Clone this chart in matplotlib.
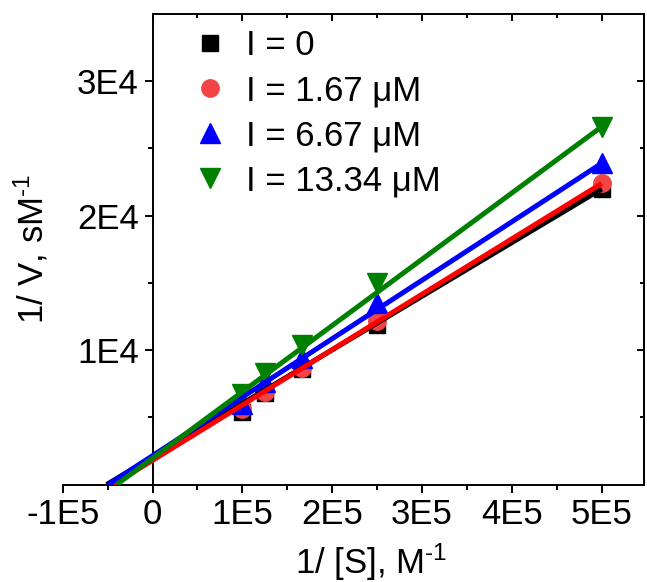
import numpy as np
import matplotlib
matplotlib.use('Agg')
import matplotlib.pyplot as plt
from matplotlib.ticker import FixedLocator

plt.rcParams['font.family'] = ['Liberation Sans', 'DejaVu Sans']
plt.rcParams['mathtext.fontset'] = 'custom'
plt.rcParams['mathtext.rm'] = 'Liberation Sans'
plt.rcParams['mathtext.default'] = 'regular'

# 1/[S] in M^-1 and 1/V in s/M for each inhibitor concentration
inv_s = [1.0e5, 1.25e5, 1.667e5, 2.5e5, 5.0e5]
inv_v_0 = [5400, 6800, 8600, 11900, 22000]
inv_v_167 = [5600, 6900, 8700, 12200, 22400]
inv_v_667 = [6000, 7600, 9400, 13500, 23900]
inv_v_1334 = [6700, 8300, 10400, 15000, 26600]

labels = ['I = 0', 'I = 1.67 μM', 'I = 6.67 μM', 'I = 13.34 μM']

# Lineweaver-Burk fit lines (slope, intercept)
fit_slope = [0.0399, 0.0412, 0.0435, 0.0493]
fit_intercept = [2040, 1800, 2150, 1970]

colors = ['black', 'red', 'blue', 'green']
mcolors = ['black', '#f24444', 'blue', 'green']
markers = ['s', 'o', '^', 'v']
msizes = [11, 12.5, 14, 14]

XMIN, XMAX = -1e5, 5.47e5
YMIN, YMAX = 0, 3.5e4

fig = plt.figure(figsize=(6.47, 5.82), dpi=100)
ax = fig.add_axes([0.0969, 0.1674, 0.8985, 0.8086])

series = [inv_v_0, inv_v_167, inv_v_667, inv_v_1334]
for ys, c, m, ms, lab in zip(series, mcolors, markers, msizes, labels):
    ax.plot(inv_s, ys, ls='none', marker=m, ms=ms, color=c, mec=c, label=lab, zorder=2)

for k, b, c in zip(fit_slope, fit_intercept, colors):
    xs = np.array([-b / k, inv_s[-1]])
    ax.plot(xs, k * xs + b, color=c, lw=3.6, solid_capstyle='butt', zorder=3)

ax.set_xlim(XMIN, XMAX)
ax.set_ylim(YMIN, YMAX)

ax.spines['left'].set_position(('data', 0))
ax.spines['top'].set_visible(False)
for s in ax.spines.values():
    s.set_linewidth(1.4)

ax.set_xticks([-1e5, 0, 1e5, 2e5, 3e5, 4e5, 5e5],
              ['-1E5', '0', '1E5', '2E5', '3E5', '4E5', '5E5'])
ax.xaxis.set_minor_locator(FixedLocator(np.arange(-5e4, 5.4e5, 1e5)))
ax.set_yticks([1e4, 2e4, 3e4], ['1E4', '2E4', '3E4'])
ax.yaxis.set_minor_locator(FixedLocator([5e3, 1.5e4, 2.5e4]))
ax.tick_params(which='major', direction='out', length=6, width=1.4, labelsize=25, pad=4)
ax.tick_params(which='minor', direction='out', length=3.5, width=1.4)
ax.tick_params(right=False, top=False, which='both')

# top and right frame with inward ticks
top = ax.secondary_xaxis('top')
top.set_xticks(np.arange(0, 5.01e5, 1e5))
top.xaxis.set_minor_locator(FixedLocator(np.arange(5e4, 5.4e5, 1e5)))
top.tick_params(which='both', direction='in', labeltop=False, width=1.4)
top.tick_params(which='major', length=5)
top.tick_params(which='minor', length=3)
top.spines['top'].set_bounds(0, XMAX)
top.spines['top'].set_linewidth(1.4)

right = ax.secondary_yaxis('right')
right.set_yticks([1e4, 2e4, 3e4])
right.yaxis.set_minor_locator(FixedLocator([5e3, 1.5e4, 2.5e4]))
right.tick_params(which='both', direction='in', labelright=False, width=1.4)
right.tick_params(which='major', length=5)
right.tick_params(which='minor', length=3)
right.spines['right'].set_linewidth(1.4)

ax.set_xlabel(r'1/ [S], M$^{\text{-}1}$', fontsize=25)
ax.xaxis.set_label_coords(0.53, -0.122)
ax.set_ylabel(r'1/ V, sM$^{\text{-}1}$', fontsize=25)
ax.yaxis.set_label_coords(-0.022, 0.5)

ax.legend(loc='upper left', bbox_to_anchor=(0.235, 0.968), frameon=False,
          fontsize=25, handlelength=0.6, handletextpad=0.75, labelspacing=0.35,
          borderpad=0, borderaxespad=0, numpoints=1)

fig.savefig('out.png', dpi=100)
